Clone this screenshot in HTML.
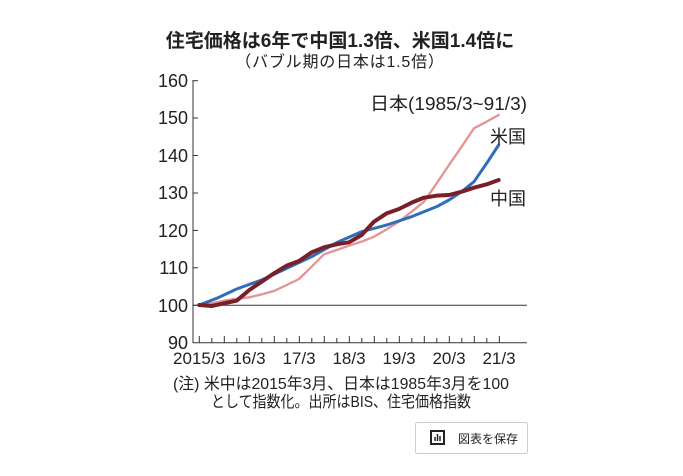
<!DOCTYPE html>
<html><head><meta charset="utf-8"><style>
body{margin:0;background:#fff;width:683px;height:471px;overflow:hidden}
text{font-family:"Liberation Sans","Noto Sans CJK JP",sans-serif;fill:#222}
</style></head><body>
<svg width="683" height="471" viewBox="0 0 683 471">
<text x="340" y="47" text-anchor="middle" font-size="19" font-weight="bold">住宅価格は6年で中国1.3倍、米国1.4倍に</text>
<text x="340" y="67" text-anchor="middle" font-size="16" letter-spacing="0.8">（バブル期の日本は1.5倍）</text>
<g font-size="18" text-anchor="end">
<text x="188" y="87">160</text><text x="188" y="124">150</text><text x="188" y="162">140</text>
<text x="188" y="199">130</text><text x="188" y="237">120</text><text x="188" y="274">110</text>
<text x="188" y="312">100</text><text x="188" y="349">90</text></g>
<g stroke="#333" stroke-width="1" fill="none">
<line x1="193" y1="80" x2="193" y2="343"/>
<line x1="193" y1="305.3" x2="527" y2="305.3"/>
<line x1="193" y1="342.7" x2="527" y2="342.7"/>
<line x1="193" y1="80.7" x2="198" y2="80.7"/><line x1="193" y1="118" x2="198" y2="118"/>
<line x1="193" y1="155.5" x2="198" y2="155.5"/><line x1="193" y1="193" x2="198" y2="193"/>
<line x1="193" y1="230.4" x2="198" y2="230.4"/><line x1="193" y1="267.8" x2="198" y2="267.8"/>
<line x1="193" y1="305.3" x2="198" y2="305.3"/>
</g>
<g stroke="#333" stroke-width="1">
<path d="M199.3 336V343M211.8 338V343M224.3 336V343M236.8 338V343M249.3 336V343M261.8 338V343M274.3 336V343M286.8 338V343M299.3 336V343M311.8 338V343M324.3 336V343M336.8 338V343M349.3 336V343M361.8 338V343M374.3 336V343M386.8 338V343M399.3 336V343M411.8 338V343M424.3 336V343M436.8 338V343M449.3 336V343M461.8 338V343M474.3 336V343M486.8 338V343M499.3 336V343"/>
</g>
<g font-size="17" text-anchor="middle">
<text x="199" y="364">2015/3</text><text x="249" y="364">16/3</text><text x="299" y="364">17/3</text>
<text x="349" y="364">18/3</text><text x="399" y="364">19/3</text><text x="449" y="364">20/3</text><text x="499" y="364">21/3</text></g>
<g transform="translate(150,60) scale(0.33333)" fill="none" stroke-linejoin="round" stroke-linecap="round">
<polyline stroke="#e39494" stroke-width="7" points="148,735 185,730 222,722 260,716 298,712 335,703 372,693 410,675 447,657 485,620 522,583 560,570 597,557 635,545 672,530 710,508 747,485 785,455 822,425 860,370 897,315 935,260 972,205 1010,185 1046,165"/>
<polyline stroke="#2f6db8" stroke-width="9" points="148,735 200,715 260,687 335,660 410,625 485,590 560,548 635,515 710,495 785,470 860,440 897,420 935,395 972,365 1010,310 1046,255"/>
<polyline stroke="#7a1f27" stroke-width="12" points="148,735 185,738 222,730 260,722 298,690 335,665 372,640 410,617 447,603 485,577 522,562 560,553 597,547 635,525 672,485 710,460 747,447 785,428 822,413 860,407 897,405 935,395 972,383 1010,373 1046,360"/>
</g>
<text x="370" y="110" font-size="18" textLength="157" lengthAdjust="spacingAndGlyphs">日本(1985/3~91/3)</text>
<text x="490" y="143" font-size="18">米国</text>
<text x="490" y="205" font-size="18">中国</text>
<text x="341" y="389" text-anchor="middle" font-size="16" textLength="336" lengthAdjust="spacingAndGlyphs">(注) 米中は2015年3月、日本は1985年3月を100</text>
<text x="341" y="407" text-anchor="middle" font-size="16" textLength="260" lengthAdjust="spacingAndGlyphs">として指数化。出所はBIS、住宅価格指数</text>
<rect x="415.5" y="422.5" width="112" height="31" rx="2" fill="#fff" stroke="#ccc"/>
<rect x="431" y="431" width="13" height="13" fill="none" stroke="#222" stroke-width="2"/>
<path d="M435 441V437M437.5 441V434M440 441V436" stroke="#222" stroke-width="1.5"/>
<text x="458" y="443" font-size="12">図表を保存</text>
</svg>
</body></html>
